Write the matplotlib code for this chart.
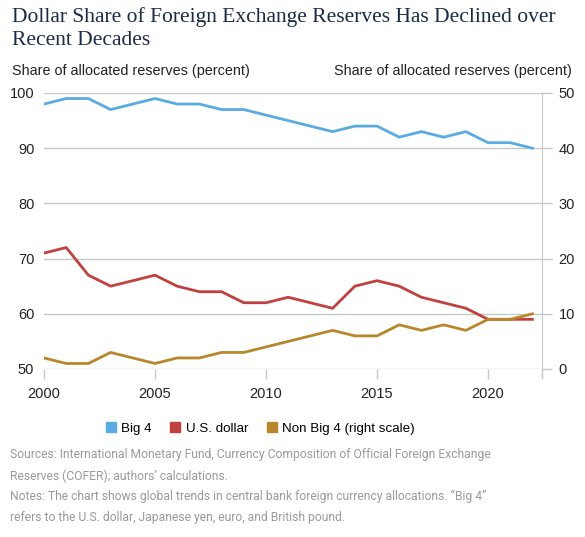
import matplotlib.pyplot as plt
from matplotlib.lines import Line2D

years = list(range(2000, 2023))
big4 = [98, 99, 99, 97, 98, 99, 98, 98, 97, 97, 96, 95, 94, 93, 94, 94, 92, 93, 92, 93, 91, 91, 90]
usd = [71, 72, 67, 65, 66, 67, 65, 64, 64, 62, 62, 63, 62, 61, 65, 66, 65, 63, 62, 61, 59, 59, 59]
non_big4 = [2, 1, 1, 3, 2, 1, 2, 2, 3, 3, 4, 5, 6, 7, 6, 6, 8, 7, 8, 7, 9, 9, 10]

c_big4 = "#5aabe2"
c_usd = "#c0413f"
c_non = "#b9862c"
grid_c = "#c8c8c8"
sans = "Liberation Sans"

fig = plt.figure(figsize=(5.85, 5.37), dpi=100)
W, H = 585, 537
ax = fig.add_axes([44 / W, 1 - 369 / H, (542 - 44) / W, (369 - 93) / H])
ax2 = ax.twinx()

xmax = 2022.43
ax.set_xlim(2000, xmax)
ax.set_ylim(50, 100)
ax2.set_ylim(0, 50)

ax.plot(years, big4, color=c_big4, lw=2, zorder=3)
ax.plot(years, usd, color=c_usd, lw=2, zorder=3)
ax2.plot(years, non_big4, color=c_non, lw=2, zorder=3)

ax.set_yticks(range(50, 101, 10))
ax2.set_yticks(range(0, 51, 10))
ax.set_xticks(range(2000, 2021, 5))
ax.set_xticks([xmax], minor=True)
ax.yaxis.grid(True, color=grid_c, lw=1)
ax.set_axisbelow(True)

for s in ["top", "left", "right", "bottom"]:
    ax.spines[s].set_visible(False)
    ax2.spines[s].set_visible(False)
ax2.spines["right"].set_visible(True)
ax2.spines["right"].set_color(grid_c)

ax.tick_params(axis="y", length=0, pad=7, labelsize=10.5, labelcolor="#222222")
ax.tick_params(axis="x", which="both", length=7, color=grid_c, width=1,
               pad=6, labelsize=10.5, labelcolor="#222222")
ax2.tick_params(axis="y", length=7, color=grid_c, width=1, pad=5,
                labelsize=10.5, labelcolor="#222222")
for lab in ax.get_xticklabels() + ax.get_yticklabels() + ax2.get_yticklabels():
    lab.set_fontfamily(sans)

fig.text(12 / W, 1 - 7 / H,
         "Dollar Share of Foreign Exchange Reserves Has Declined over\nRecent Decades",
         ha="left", va="top", fontsize=15.5, family="Liberation Serif",
         color="#1b2a45", linespacing=1.3)
fig.text(12 / W, 1 - 71 / H, "Share of allocated reserves (percent)",
         ha="left", va="center", fontsize=10.4, family=sans, color="#222222")
fig.text(572 / W, 1 - 71 / H, "Share of allocated reserves (percent)",
         ha="right", va="center", fontsize=10.4, family=sans, color="#222222")

handles = [Line2D([], [], ls="", marker="s", ms=7, color=c)
           for c in (c_big4, c_usd, c_non)]
fig.legend(handles, ["Big 4", "U.S. dollar", "Non Big 4 (right scale)"],
           loc="center", bbox_to_anchor=(260 / W, 1 - 429 / H), ncol=3,
           frameon=False, prop={"family": sans, "size": 9.6},
           handletextpad=0.35, columnspacing=1.3, handlelength=0.9)

notes = ("Sources: International Monetary Fund, Currency Composition of Official Foreign Exchange\n"
         "Reserves (COFER); authors\u2019 calculations.\n"
         "Notes: The chart shows global trends in central bank foreign currency allocations. \u201cBig 4\u201d\n"
         "refers to the U.S. dollar, Japanese yen, euro, and British pound.")
fig.text(10 / W, 1 - 448 / H, notes, ha="left", va="top", fontsize=8.7,
         family="Roboto", color="#9a9a9a", linespacing=1.78)

fig.savefig("out.png", dpi=100)
